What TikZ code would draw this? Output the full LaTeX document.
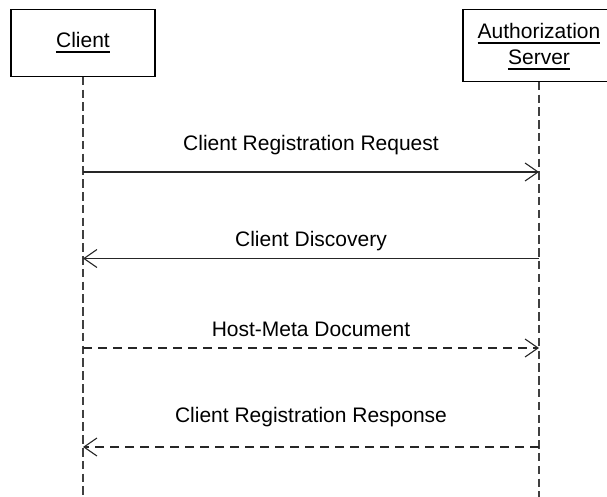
\documentclass[tikz,border=0pt]{standalone}
\usepackage{fontspec}
\setmainfont{Liberation Sans}
\usetikzlibrary{arrows.meta}
\begin{document}
\begin{tikzpicture}[x=1pt,y=-1pt,
  actor/.style={draw=black, line width=1.2pt, fill=white, inner sep=0pt},
  lbl/.style={inner sep=0pt, anchor=base, font=\fontsize{21}{26}\selectfont},
  uline/.style={draw=black, line width=1.1pt},
  life/.style={draw=black!75, line width=1.2pt, dash pattern=on 8.5pt off 4.3pt},
  msg/.style={draw=black!85, line width=1.1pt,
    -{Straight Barb[length=13pt,width=18pt,line width=1.1pt]}},
  reply/.style={msg, dash pattern=on 9pt off 6pt}
]
\useasboundingbox (0,0) rectangle (607,497);
\clip (0,0) rectangle (607,497);

% participant boxes
\node[actor, minimum width=144pt, minimum height=67pt] (client) at (83,42.75) {};
\node[actor, minimum width=152pt, minimum height=72pt] (server) at (539,45.15) {};

% participant names, underlined
\node[lbl] (clientname) at (83,48) {Client};
\draw[uline] ([yshift=-4pt]clientname.base west) -- ([yshift=-4pt]clientname.base east);
\node[lbl] (servername1) at (539,39) {Authorization};
\draw[uline] ([yshift=-4pt]servername1.base west) -- ([yshift=-4pt]servername1.base east);
\node[lbl] (servername2) at (539,65) {Server};
\draw[uline] ([yshift=-4pt]servername2.base west) -- ([yshift=-4pt]servername2.base east);

% lifelines
\coordinate (clientend) at (83,497);
\coordinate (serverend) at (539,497);
\draw[life] (client.south) -- (clientend);
\draw[life] (server.south) -- (serverend);

% message end points on the lifelines
\coordinate (c1) at (83,172);  \coordinate (s1) at (539,172);
\coordinate (c2) at (83,258.5); \coordinate (s2) at (539,258.5);
\coordinate (c3) at (83,348);  \coordinate (s3) at (539,348);
\coordinate (c4) at (83,447);  \coordinate (s4) at (539,447);

% messages
\draw[msg] (c1) -- (s1);
\node[lbl] (m1) at (311,151) {Client Registration Request};
\draw[msg] (s2) -- (c2);
\node[lbl] (m2) at (311,246.7) {Client Discovery};
\draw[reply] (c3) -- (s3);
\node[lbl] (m3) at (311,336) {Host-Meta Document};
\draw[reply] (s4) -- (c4);
\node[lbl] (m4) at (311,422) {Client Registration Response};
\end{tikzpicture}
\end{document}
